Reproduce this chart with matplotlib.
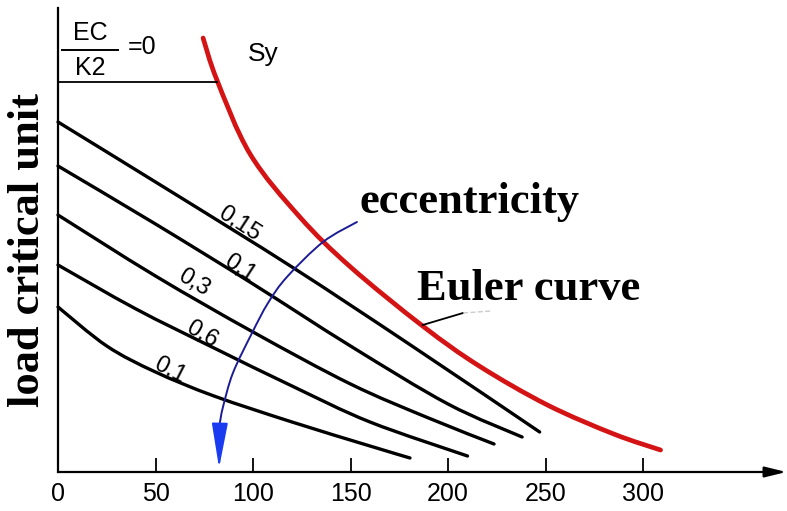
import matplotlib
matplotlib.use("Agg")
import matplotlib.pyplot as plt
from matplotlib.path import Path
from matplotlib.patches import PathPatch
import numpy as np

# ---------------- data ----------------
slenderness_ticks = [0, 50, 100, 150, 200, 250, 300]

# Euler curve
euler_x = [74.4, 81.5, 98.5, 124, 150, 187, 216, 251, 285, 309]
euler_y = [434, 392, 318, 255, 205, 146, 106, 67, 38, 22]

# yield line Sy (EC/K2 = 0)
sy_x = [0, 81.5]
sy_y = [390, 390]

# eccentricity curves
c1_x = [0, 60, 120, 180, 247]
c1_y = [350, 278, 205, 128, 40]
c2_x = [0, 50, 100, 150, 200, 238]
c2_y = [306, 248, 188, 126, 68, 35]
c3_x = [0, 50, 100, 150, 190, 223.6]
c3_y = [257, 196, 140, 88, 54, 28]
c4_x = [0, 40, 80, 120, 160, 210]
c4_y = [207, 163, 124, 86, 50, 16]
c5_x = [0, 25, 50, 80, 120, 160, 180.5]
c5_y = [165, 126, 100, 76, 50, 26, 14]

curve_labels = ["0,15", "0,1", "0,3", "0,6", "0,1"]
label_x = [93.0, 93.3, 69.7, 73.8, 57.4]
label_y = [248, 204, 189, 138, 102]
label_rot = [-33, -33, -31, -30, -27]

# eccentricity arrow path
arc_x = [153.3, 135.9, 117.4, 107.7, 99.5, 89.7, 84.6, 83.0]
arc_y = [250, 230, 195, 169, 139, 99, 65, 49]
arrow_tip = (82.6, 4)


def smooth_path(xs, ys):
    """Catmull-Rom through the points, expressed as cubic Bezier segments."""
    p = np.column_stack([xs, ys]).astype(float)
    verts = [p[0]]
    codes = [Path.MOVETO]
    n = len(p)
    for i in range(n - 1):
        p0 = p[i - 1] if i > 0 else p[i]
        p1 = p[i]
        p2 = p[i + 1]
        p3 = p[i + 2] if i + 2 < n else p[i + 1]
        c1 = p1 + (p2 - p0) / 6.0
        c2 = p2 - (p3 - p1) / 6.0
        verts += [c1, c2, p2]
        codes += [Path.CURVE4] * 3
    return Path(verts, codes)


def draw_curve(ax, xs, ys, **kw):
    patch = PathPatch(smooth_path(xs, ys), fill=False, capstyle="round",
                      joinstyle="round", clip_on=False, **kw)
    ax.add_patch(patch)


# ---------------- figure ----------------
W, H = 787, 511
fig = plt.figure(figsize=(W / 100, H / 100), dpi=100)
ax = fig.add_axes([58 / W, (H - 472) / H, (W - 58) / W, (472 - 8) / H])
ax.set_xlim(0, (W - 58) / 1.95)
ax.set_ylim(0, 464)

for s in ["top", "right", "bottom"]:
    ax.spines[s].set_visible(False)
ax.spines["left"].set_linewidth(1.6)

# x axis with arrow
ax.annotate("", xy=(373.5, 0), xytext=(0, 0), xycoords="data",
            arrowprops=dict(arrowstyle="-|>,head_length=1.3,head_width=0.32",
                            lw=1.6, color="black", shrinkA=0, shrinkB=0),
            annotation_clip=False)

ax.set_xticks(slenderness_ticks)
ax.set_xticklabels([str(t) for t in slenderness_ticks])
ax.tick_params(axis="x", direction="in", length=10, width=1.3, pad=7,
               labelsize=18)
for lab in ax.get_xticklabels():
    lab.set_family("Liberation Sans")
ax.set_yticks([])

# curves
black_curves = [(c1_x, c1_y), (c2_x, c2_y), (c3_x, c3_y), (c4_x, c4_y), (c5_x, c5_y)]
for cx, cy in black_curves:
    draw_curve(ax, cx, cy, edgecolor="black", lw=2.4)

draw_curve(ax, euler_x, euler_y, edgecolor="#d41414", lw=3.4)
ax.plot(sy_x, sy_y, color="black", lw=1.3)

for t, x, y, r in zip(curve_labels, label_x, label_y, label_rot):
    ax.text(x, y, t, rotation=r, rotation_mode="anchor", ha="center", va="center",
            fontsize=17, family="Liberation Sans")

# eccentricity arrow
draw_curve(ax, arc_x, arc_y, edgecolor="#1c1c96", lw=1.4)
ax.annotate("", xy=arrow_tip, xytext=(arc_x[-1], arc_y[-1]),
            arrowprops=dict(arrowstyle="-|>,head_length=2.8,head_width=0.5",
                            lw=1.4, color="#1a3cf0", shrinkA=0, shrinkB=0))

# texts
ax.text(16.4, 439, "EC", ha="center", va="center", fontsize=18, family="Liberation Sans")
ax.text(16.4, 404, "K2", ha="center", va="center", fontsize=18, family="Liberation Sans")
ax.plot([2, 30.8], [422, 422], color="black", lw=1.4)
ax.text(43, 425, "=0", ha="center", va="center", fontsize=18, family="Liberation Sans")
ax.text(105, 418, "Sy", ha="center", va="center", fontsize=19, family="Liberation Sans")

ax.text(211, 270, "eccentricity", ha="center", va="center", fontsize=32,
        family="Liberation Serif", fontweight="bold")
ax.text(241.5, 183, "Euler curve", ha="center", va="center", fontsize=32,
        family="Liberation Serif", fontweight="bold")
ax.plot([187, 207.7], [147, 159], color="black", lw=1.3)
ax.plot([207.7, 222], [159, 161], color="#cccccc", lw=1.0, ls="--")

fig.text(28 / W, 1 - 250 / H, "load critical unit", rotation=90, ha="center",
         va="center", fontsize=32, family="Liberation Serif", fontweight="bold")

fig.savefig("out.png", dpi=100)
